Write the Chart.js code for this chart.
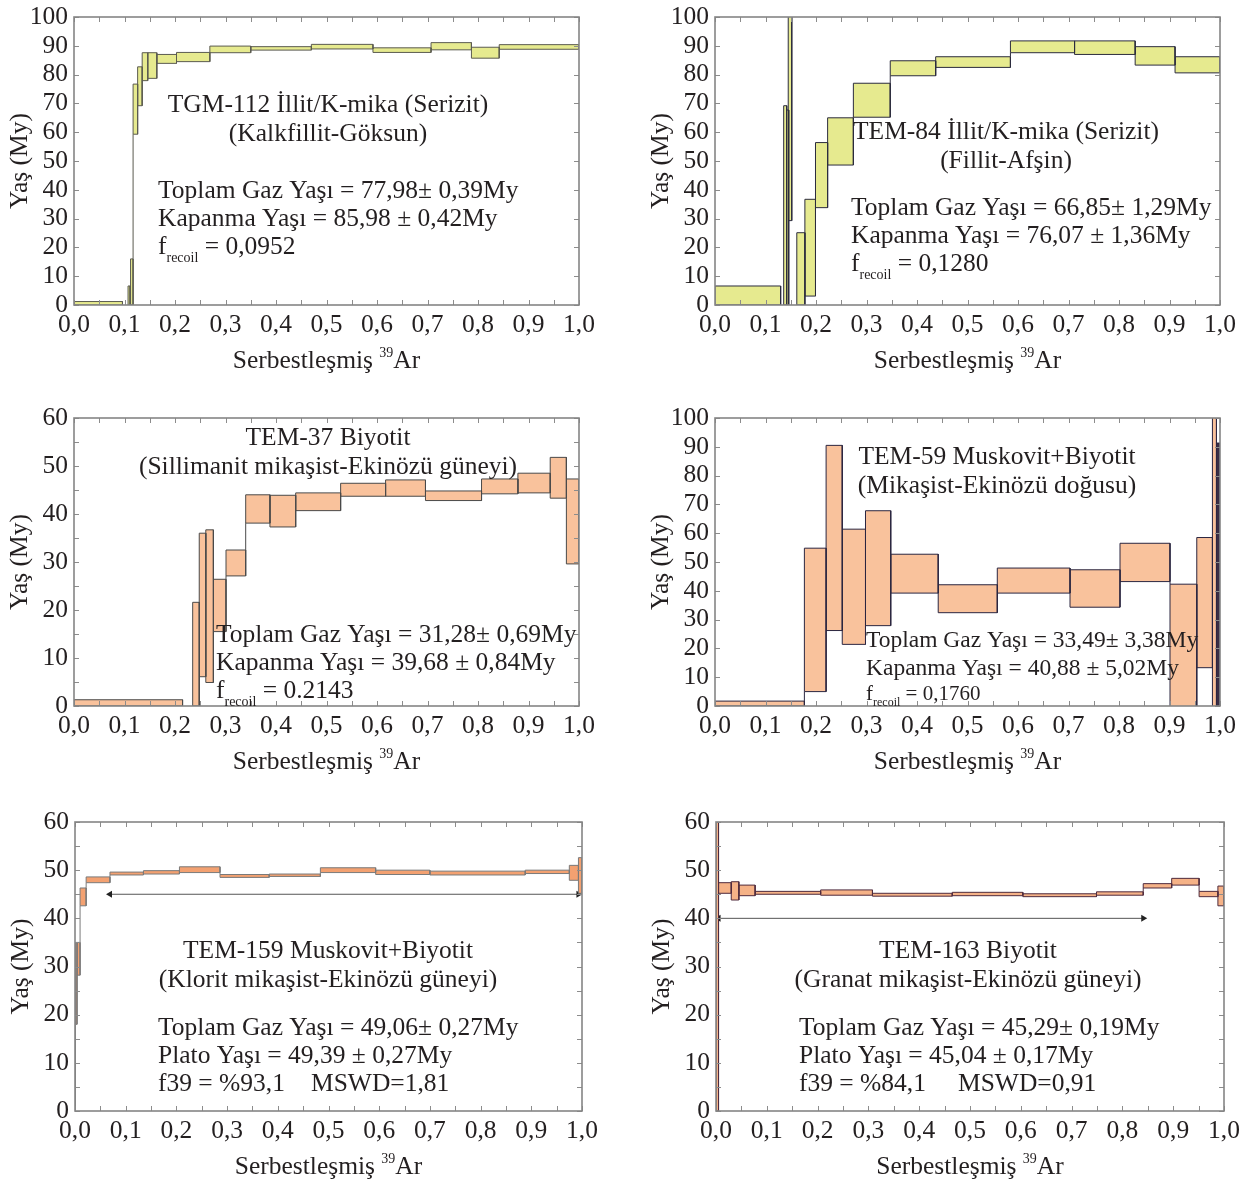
<!DOCTYPE html>
<html>
<head>
<meta charset="utf-8">
<script src="https://cdn.jsdelivr.net/npm/chart.js@4.4.0/dist/chart.umd.min.js"></script>
<style>
  html, body { margin: 0; padding: 0; background: #fff; width: 1254px; height: 1182px; overflow: hidden; }
  canvas { position: absolute; }
</style>
</head>
<body>
<script>
// 40Ar/39Ar step-heating age spectra: each step spans [start, end] of released 39Ar
// and [low, high] of its age (My), i.e. the age ± error box.

// TGM-112 İllit/K-mika (Serizit)
const tgm112Start = [0, 0.107, 0.112, 0.117, 0.126, 0.135, 0.146, 0.164, 0.203, 0.269, 0.350, 0.470, 0.592, 0.707, 0.787, 0.842];
const tgm112End   = [0.096, 0.111, 0.117, 0.126, 0.135, 0.146, 0.164, 0.203, 0.269, 0.350, 0.470, 0.592, 0.707, 0.787, 0.842, 1.0];
const tgm112Low   = [0, 0, 0, 59.3, 69.2, 77.9, 78.7, 83.9, 84.5, 87.6, 88.5, 88.9, 87.7, 88.6, 85.7, 88.8];
const tgm112High  = [1.2, 6.6, 16.0, 76.7, 82.7, 87.6, 87.6, 87.0, 87.7, 89.9, 89.7, 90.5, 89.3, 91.1, 89.5, 90.4];

// TEM-84 İllit/K-mika (Serizit)
const tem84Start = [0, 0.136, 0.141, 0.145, 0.162, 0.178, 0.199, 0.223, 0.274, 0.347, 0.437, 0.585, 0.712, 0.832, 0.911];
const tem84End   = [0.130, 0.142, 0.146, 0.152, 0.178, 0.199, 0.223, 0.274, 0.347, 0.437, 0.585, 0.712, 0.832, 0.911, 1.0];
const tem84Low   = [0, 0, 0, 29.3, 0, 3.1, 33.8, 48.6, 65.2, 79.6, 82.5, 87.6, 87.0, 83.3, 80.6];
const tem84High  = [6.6, 69.2, 67.7, 104, 25.1, 36.7, 56.4, 65.0, 77.0, 84.8, 86.2, 91.7, 91.7, 89.7, 86.2];

// TEM-37 Biyotit
const tem37Start = [0, 0.235, 0.248, 0.261, 0.276, 0.301, 0.340, 0.388, 0.439, 0.528, 0.617, 0.696, 0.807, 0.879, 0.943, 0.975];
const tem37End   = [0.215, 0.248, 0.261, 0.276, 0.301, 0.340, 0.388, 0.439, 0.528, 0.617, 0.696, 0.807, 0.879, 0.943, 0.975, 1.0];
const tem37Low   = [0, 0, 6.1, 4.9, 15.5, 27.1, 38.1, 37.3, 40.7, 43.7, 43.7, 42.8, 44.2, 44.4, 43.3, 29.6];
const tem37High  = [1.3, 21.6, 36.0, 36.7, 26.4, 32.5, 44.0, 43.9, 44.4, 46.4, 47.1, 44.8, 47.3, 48.5, 51.8, 47.3];

// TEM-59 Muskovit+Biyotit
const tem59Start = [0, 0.177, 0.220, 0.252, 0.298, 0.348, 0.442, 0.559, 0.703, 0.802, 0.901, 0.954, 0.985, 0.993];
const tem59End   = [0.177, 0.220, 0.252, 0.298, 0.348, 0.442, 0.559, 0.703, 0.802, 0.901, 0.954, 0.985, 0.993, 1.0];
const tem59Low   = [0, 5.0, 26.2, 21.4, 27.9, 39.2, 32.4, 39.2, 34.3, 43.2, -5, 13.3, -5, 0];
const tem59High  = [1.7, 54.8, 90.5, 61.4, 67.8, 52.7, 42.1, 47.9, 47.3, 56.5, 42.3, 58.5, 105, 91.3];

// TEM-159 Muskovit+Biyotit
const tem159Start = [0, 0.001, 0.004, 0.010, 0.022, 0.069, 0.135, 0.206, 0.286, 0.383, 0.484, 0.593, 0.700, 0.888, 0.975, 0.993];
const tem159End   = [0.001, 0.004, 0.010, 0.022, 0.069, 0.135, 0.206, 0.286, 0.383, 0.484, 0.593, 0.700, 0.888, 0.975, 0.993, 1.0];
const tem159Low   = [0, 18.0, 28.2, 42.6, 47.4, 49.0, 49.2, 49.5, 48.5, 48.7, 49.5, 49.1, 49.0, 49.3, 47.9, 45.2];
const tem159High  = [18.0, 35.0, 35.0, 46.3, 48.6, 49.6, 49.9, 50.7, 49.1, 49.2, 50.5, 50.0, 49.8, 50.0, 51.0, 52.6];
const tem159Plateau = [0.069, 0.993, 45.0];   // from, to, drawn level

// TEM-163 Biyotit
const tem163Start = [0, 0.005, 0.030, 0.045, 0.077, 0.206, 0.308, 0.465, 0.604, 0.749, 0.841, 0.897, 0.951, 0.988];
const tem163End   = [0.005, 0.030, 0.045, 0.077, 0.206, 0.308, 0.465, 0.604, 0.749, 0.841, 0.897, 0.951, 0.988, 1.0];
const tem163Low   = [0, 45.2, 43.8, 44.7, 45.0, 44.8, 44.6, 44.7, 44.5, 44.8, 46.3, 46.9, 44.5, 42.6];
const tem163High  = [62, 47.4, 47.6, 46.9, 45.6, 45.9, 45.2, 45.4, 45.1, 45.5, 47.2, 48.3, 45.6, 46.7];
const tem163Plateau = [0.005, 0.841, 40.0];

const xTicks = [0, 0.1, 0.2, 0.3, 0.4, 0.5, 0.6, 0.7, 0.8, 0.9, 1.0];
const yTicks100 = [0, 10, 20, 30, 40, 50, 60, 70, 80, 90, 100];
const yTicks60 = [0, 10, 20, 30, 40, 50, 60];

const SERIF = '"Liberation Serif", "Times New Roman", serif';
const INK = '#231f20';
const FS = 25.5;
const Y_PAD = 74, TOP_PAD = 17, RIGHT_PAD = 40, X_BAND = 75;

const panels = [
  { rect: [74, 17, 505, 288], yMax: 100, yTicks: yTicks100, yMinor: 10,
    start: tgm112Start, end: tgm112End, low: tgm112Low, high: tgm112High,
    fill: '#e6ea8f', line: '#5b5b50',
    notes: [
      { dx: 254, dy: 87, align: 'center', runs: [['TGM-112 İllit/K-mika (Serizit)']] },
      { dx: 254, dy: 116, align: 'center', runs: [['(Kalkfillit-Göksun)']] },
      { dx: 84, dy: 173, runs: [['Toplam Gaz Yaşı = 77,98± 0,39My']] },
      { dx: 84, dy: 201, runs: [['Kapanma Yaşı = 85,98 ± 0,42My']] },
      { dx: 84, dy: 229, runs: [['f'], ['recoil', 'sub'], [' = 0,0952']] }
    ] },
  { rect: [715, 17, 505, 288], yMax: 100, yTicks: yTicks100, yMinor: 10,
    start: tem84Start, end: tem84End, low: tem84Low, high: tem84High,
    fill: '#e6ea8f', line: '#2c2c3e',
    notes: [
      { dx: 291, dy: 114, align: 'center', runs: [['TEM-84 İllit/K-mika (Serizit)']] },
      { dx: 291, dy: 143, align: 'center', runs: [['(Fillit-Afşin)']] },
      { dx: 136, dy: 190, runs: [['Toplam Gaz Yaşı = 66,85± 1,29My']] },
      { dx: 136, dy: 218, runs: [['Kapanma Yaşı = 76,07 ± 1,36My']] },
      { dx: 136, dy: 246, runs: [['f'], ['recoil', 'sub'], [' = 0,1280']] }
    ] },
  { rect: [74, 418, 505, 288], yMax: 60, yTicks: yTicks60, yMinor: 5,
    start: tem37Start, end: tem37End, low: tem37Low, high: tem37High,
    fill: '#f9c29c', line: '#4a4a4a',
    notes: [
      { dx: 254, dy: 19, align: 'center', runs: [['TEM-37 Biyotit']] },
      { dx: 254, dy: 48, align: 'center', runs: [['(Sillimanit mikaşist-Ekinözü güneyi)']] },
      { dx: 142, dy: 216, runs: [['Toplam Gaz Yaşı = 31,28± 0,69My']] },
      { dx: 142, dy: 244, runs: [['Kapanma Yaşı = 39,68 ± 0,84My']] },
      { dx: 142, dy: 272, runs: [['f'], ['recoil', 'sub'], [' = 0.2143']] }
    ] },
  { rect: [715, 418, 505, 288], yMax: 100, yTicks: yTicks100, yMinor: 10,
    start: tem59Start, end: tem59End, low: tem59Low, high: tem59High,
    fill: '#f9c29c', line: '#2b2640', dark: [13], darkFill: '#3a2d45',
    notes: [
      { dx: 282, dy: 38, align: 'center', runs: [['TEM-59 Muskovit+Biyotit']] },
      { dx: 282, dy: 67, align: 'center', runs: [['(Mikaşist-Ekinözü doğusu)']] },
      { dx: 151, dy: 221, size: 23.5, runs: [['Toplam Gaz Yaşı = 33,49± 3,38My']] },
      { dx: 151, dy: 249, size: 23.5, runs: [['Kapanma Yaşı = 40,88 ± 5,02My']] },
      { dx: 151, dy: 275, size: 21, runs: [['f'], ['recoil', 'sub'], [' = 0,1760']] }
    ] },
  { rect: [75, 822, 507, 289], yMax: 60, yTicks: yTicks60, yMinor: 5,
    start: tem159Start, end: tem159End, low: tem159Low, high: tem159High, plateau: tem159Plateau,
    fill: '#f3a171', line: '#7a7a7a',
    notes: [
      { dx: 253, dy: 128, align: 'center', runs: [['TEM-159 Muskovit+Biyotit']] },
      { dx: 253, dy: 157, align: 'center', runs: [['(Klorit mikaşist-Ekinözü güneyi)']] },
      { dx: 83, dy: 205, runs: [['Toplam Gaz Yaşı = 49,06± 0,27My']] },
      { dx: 83, dy: 233, runs: [['Plato Yaşı = 49,39 ± 0,27My']] },
      { dx: 83, dy: 261, runs: [['f39 = %93,1']] },
      { dx: 236, dy: 261, runs: [['MSWD=1,81']] }
    ] },
  { rect: [716, 822, 508, 289], yMax: 60, yTicks: yTicks60, yMinor: 5,
    start: tem163Start, end: tem163End, low: tem163Low, high: tem163High, plateau: tem163Plateau,
    fill: '#f5b287', line: '#4f2b3d',
    notes: [
      { dx: 252, dy: 128, align: 'center', runs: [['TEM-163 Biyotit']] },
      { dx: 252, dy: 157, align: 'center', runs: [['(Granat mikaşist-Ekinözü güneyi)']] },
      { dx: 83, dy: 205, runs: [['Toplam Gaz Yaşı = 45,29± 0,19My']] },
      { dx: 83, dy: 233, runs: [['Plato Yaşı = 45,04 ± 0,17My']] },
      { dx: 83, dy: 261, runs: [['f39 = %84,1']] },
      { dx: 242, dy: 261, runs: [['MSWD=0,91']] }
    ] }
];

// Writes a run of text pieces (normal / subscript / superscript) starting at x.
function drawRuns(ctx, x, baseline, runs, size, align) {
  const fontFor = k => (k ? Math.round(size * 0.55) : size) + 'px ' + SERIF;
  let total = 0;
  const widths = runs.map(([t, k]) => {
    ctx.font = fontFor(k);
    const w = ctx.measureText(t).width;
    total += w;
    return w;
  });
  let cx = align === 'center' ? x - total / 2 : x;
  runs.forEach(([t, k], i) => {
    ctx.font = fontFor(k);
    const dy = k === 'sub' ? size * 0.3 : k === 'sup' ? -size * 0.42 : 0;
    ctx.fillText(t, cx, baseline + dy);
    cx += widths[i];
  });
}

// Plot frame with short inward ticks on all four sides.
const framePlugin = {
  id: 'frame',
  afterDatasetsDraw(chart, args, opts) {
    const { ctx, chartArea: a, scales: { x, y } } = chart;
    ctx.save();
    ctx.strokeStyle = '#8c8c8c';
    ctx.lineWidth = 1;
    ctx.beginPath();
    for (let i = 0; i <= 20; i++) {
      const px = Math.round(x.getPixelForValue(i * 0.05)) + 0.5;
      ctx.moveTo(px, a.bottom); ctx.lineTo(px, a.bottom - 5);
      ctx.moveTo(px, a.top); ctx.lineTo(px, a.top + 5);
    }
    for (let v = y.min; v <= y.max + 1e-6; v += opts.step) {
      const py = Math.round(y.getPixelForValue(v)) + 0.5;
      ctx.moveTo(a.left, py); ctx.lineTo(a.left + 5, py);
      ctx.moveTo(a.right, py); ctx.lineTo(a.right - 5, py);
    }
    ctx.stroke();
    ctx.lineWidth = 1.6;
    ctx.strokeStyle = '#858585';
    ctx.strokeRect(a.left, a.top, a.right - a.left, a.bottom - a.top);
    ctx.restore();
  }
};

// Sample labels, results and the x-axis title.
const notesPlugin = {
  id: 'notes',
  afterDraw(chart, args, opts) {
    const { ctx, chartArea: a } = chart;
    ctx.save();
    ctx.fillStyle = INK;
    ctx.textAlign = 'left';
    ctx.textBaseline = 'alphabetic';
    (opts.items || []).forEach(it => {
      const size = it.size || FS;
      drawRuns(ctx, a.left + it.dx, a.top + it.dy + size * 0.33, it.runs, size, it.align);
    });
    drawRuns(ctx, (a.left + a.right) / 2, a.bottom + 55 + 8,
      [['Serbestleşmiş '], ['39', 'sup'], ['Ar']], FS, 'center');
    ctx.restore();
  }
};

function boxDatasets(p) {
  return p.start.map((x0, i) => {
    const x1 = p.end[i], lo = p.low[i], hi = p.high[i];
    return {
      data: [{ x: x0, y: lo }, { x: x0, y: hi }, { x: x1, y: hi }, { x: x1, y: lo }, { x: x0, y: lo }],
      borderColor: p.line,
      borderWidth: 1,
      backgroundColor: (p.dark && p.dark.includes(i)) ? p.darkFill : p.fill,
      fill: 'shape',
      pointRadius: 0,
      tension: 0
    };
  });
}

// Vertical links between adjacent steps whose boxes do not overlap.
function linkDataset(p) {
  const pts = [];
  for (let i = 0; i < p.start.length - 1; i++) {
    if (Math.abs(p.end[i] - p.start[i + 1]) > 1e-9) continue;
    const xe = p.end[i];
    if (p.high[i] < p.low[i + 1]) {
      pts.push({ x: xe, y: p.high[i] }, { x: xe, y: p.low[i + 1] }, { x: xe, y: null });
    } else if (p.low[i] > p.high[i + 1]) {
      pts.push({ x: xe, y: p.high[i + 1] }, { x: xe, y: p.low[i] }, { x: xe, y: null });
    }
  }
  return { data: pts, borderColor: p.line, borderWidth: 1, fill: false, pointRadius: 0, spanGaps: false };
}

function plateauDataset(pl) {
  return {
    data: [{ x: pl[0], y: pl[2] }, { x: pl[1], y: pl[2] }],
    borderColor: '#555',
    borderWidth: 1,
    fill: false,
    pointStyle: 'triangle',
    pointRadius: 4,
    pointRotation: [-90, 90],
    pointBackgroundColor: '#222',
    pointBorderColor: '#222',
    pointBorderWidth: 0
  };
}

const hiddenGrid = { display: true, drawOnChartArea: false, drawTicks: false };

panels.forEach(p => {
  const [L, T, W, H] = p.rect;
  const canvas = document.createElement('canvas');
  canvas.width = Y_PAD + W + RIGHT_PAD;
  canvas.height = TOP_PAD + H + X_BAND;
  canvas.style.left = (L - Y_PAD) + 'px';
  canvas.style.top = (T - TOP_PAD) + 'px';
  document.body.appendChild(canvas);

  const datasets = boxDatasets(p);
  datasets.push(linkDataset(p));
  if (p.plateau) datasets.push(plateauDataset(p.plateau));

  new Chart(canvas, {
    type: 'line',
    data: { datasets },
    options: {
      responsive: false,
      animation: false,
      events: [],
      layout: { padding: { left: 0, top: TOP_PAD, right: RIGHT_PAD, bottom: 0 } },
      plugins: {
        legend: { display: false },
        tooltip: { enabled: false },
        frame: { step: p.yMinor },
        notes: { items: p.notes }
      },
      scales: {
        x: {
          type: 'linear', min: 0, max: 1,
          afterBuildTicks: s => { s.ticks = xTicks.map(v => ({ value: v })); },
          ticks: {
            color: INK, padding: 5, maxRotation: 0, autoSkip: false,
            font: { family: SERIF, size: FS },
            callback: v => Number(v).toFixed(1).replace('.', ',')
          },
          grid: hiddenGrid,
          border: { display: false },
          afterFit: s => { s.height = X_BAND; s.paddingLeft = 0; s.paddingRight = 0; }
        },
        y: {
          type: 'linear', min: 0, max: p.yMax,
          afterBuildTicks: s => { s.ticks = p.yTicks.map(v => ({ value: v })); },
          ticks: {
            color: INK, padding: 6, autoSkip: false,
            font: { family: SERIF, size: FS }
          },
          title: {
            display: true, text: 'Yaş (My)', color: INK,
            font: { family: SERIF, size: FS },
            padding: { top: 5, bottom: 0 }
          },
          grid: hiddenGrid,
          border: { display: false },
          afterFit: s => { s.width = Y_PAD; s.paddingTop = 0; s.paddingBottom = 0; }
        }
      }
    },
    plugins: [framePlugin, notesPlugin]
  });
});
</script>
</body>
</html>
